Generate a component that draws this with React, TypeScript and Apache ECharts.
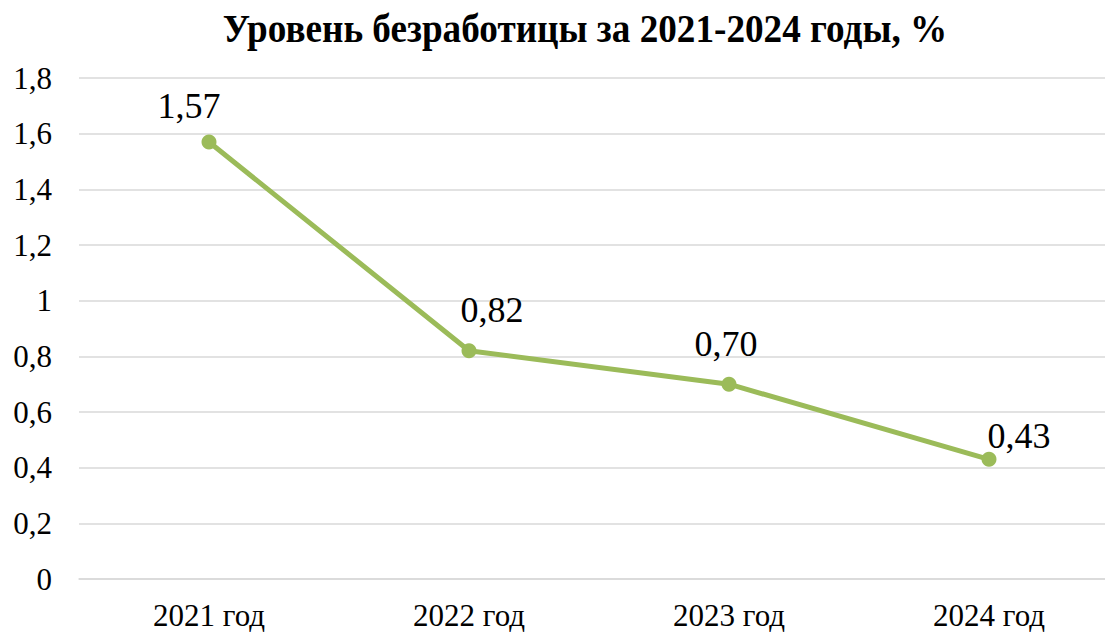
import React, { useEffect, useRef } from "react";
import * as echarts from "echarts";

const categories = ["2021 год", "2022 год", "2023 год", "2024 год"];
const values = [1.57, 0.82, 0.7, 0.43];
const valueLabels = ["1,57", "0,82", "0,70", "0,43"];
const titleText = "Уровень безработицы за 2021-2024 годы, %";

const labelOffsets: [number, number][] = [
  [-20, -6],
  [23, -10],
  [-3, -10],
  [30, 7],
];

const FONT = "Liberation Serif";

export default function App() {
  const ref = useRef<HTMLDivElement>(null);
  useEffect(() => {
    if (!ref.current) return;
    const chart = echarts.init(ref.current, undefined, { renderer: "svg" });
    chart.setOption({
      animation: false,
      backgroundColor: "#fff",
      textStyle: { fontFamily: FONT },
      graphic: [
        {
          type: "text",
          x: 585,
          y: 29,
          scaleX: 0.93,
          style: {
            text: titleText,
            fontFamily: FONT,
            fontWeight: "bold",
            fontSize: 40,
            fill: "#000",
            textAlign: "center",
            textVerticalAlign: "middle",
          },
        },
      ],
      grid: { left: 79, top: 78, width: 1040, height: 501, outerBoundsMode: "none" },
      xAxis: {
        type: "category",
        data: categories,
        boundaryGap: true,
        axisLine: { show: true, lineStyle: { color: "#d9d9d9", width: 1.5 } },
        axisTick: { show: false },
        axisLabel: {
          fontFamily: FONT,
          fontSize: 31,
          color: "#000",
          margin: 21,
        },
      },
      yAxis: {
        type: "value",
        min: 0,
        max: 1.8,
        interval: 0.2,
        axisLine: { show: false },
        axisTick: { show: false },
        splitLine: { lineStyle: { color: "#d9d9d9", width: 1.5 } },
        axisLabel: {
          fontFamily: FONT,
          fontSize: 31,
          color: "#000",
          margin: 27,
          formatter: (v: number) => String(Number(v.toFixed(1))).replace(".", ","),
        },
      },
      series: [
        {
          type: "line",
          data: values.map((v, i) => ({
            value: v,
            label: { offset: labelOffsets[i] },
          })),
          symbol: "circle",
          symbolSize: 15,
          lineStyle: { color: "#9BBB59", width: 5 },
          itemStyle: { color: "#9BBB59" },
          label: {
            show: true,
            position: "top",
            distance: 5,
            fontFamily: FONT,
            fontSize: 36,
            color: "#000",
            formatter: (p: any) => valueLabels[p.dataIndex],
          },
        },
      ],
    });
    return () => chart.dispose();
  }, []);
  return (
    <div
      ref={ref}
      style={{ position: "absolute", left: 0, top: 0, width: 1105, height: 633 }}
    />
  );
}
